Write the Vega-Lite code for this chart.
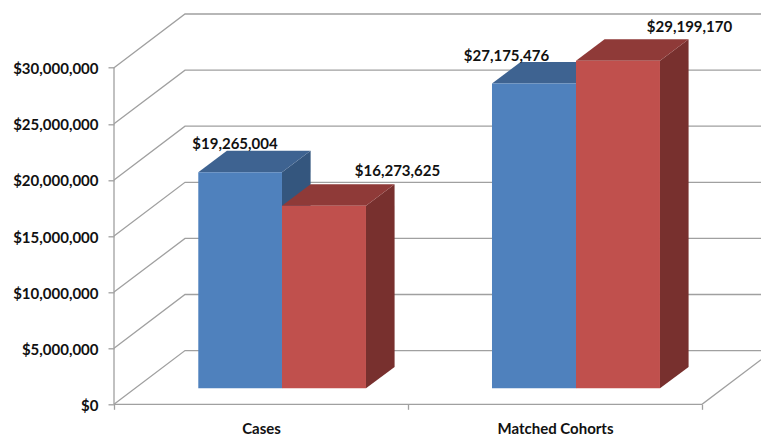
{"$schema":"https://vega.github.io/schema/vega-lite/v6.json","width":647,"height":390,"autosize":"none","padding":{"left":114,"top":14.3,"right":0,"bottom":31.7},"background":"white","view":{"stroke":null},
"datasets":{
"bars":[
{"category":"Cases","series":"A","value":19265004,"x0":0.2867,"x1":0.5714,"labelX":0.4116,"labelY":23262000},
{"category":"Cases","series":"B","value":16273625,"x0":0.5714,"x1":0.8571,"labelX":0.9643,"labelY":20856000},
{"category":"Matched Cohorts","series":"A","value":27175476,"x0":1.2857,"x1":1.5714,"labelX":1.335,"labelY":31132000},
{"category":"Matched Cohorts","series":"B","value":29199170,"x0":1.5714,"x1":1.8571,"labelX":1.9575,"labelY":33717000}],
"lines":[
{"id":"g0","x":0,"y":0},{"id":"g0","x":0.2415,"y":4786000},{"id":"g0","x":2.2007,"y":4786000},
{"id":"g5","x":0,"y":5000000},{"id":"g5","x":0.2415,"y":9786000},{"id":"g5","x":2.2007,"y":9786000},
{"id":"g10","x":0,"y":10000000},{"id":"g10","x":0.2415,"y":14786000},{"id":"g10","x":2.2007,"y":14786000},
{"id":"g15","x":0,"y":15000000},{"id":"g15","x":0.2415,"y":19786000},{"id":"g15","x":2.2007,"y":19786000},
{"id":"g20","x":0,"y":20000000},{"id":"g20","x":0.2415,"y":24786000},{"id":"g20","x":2.2007,"y":24786000},
{"id":"g25","x":0,"y":25000000},{"id":"g25","x":0.2415,"y":29786000},{"id":"g25","x":2.2007,"y":29786000},
{"id":"g30","x":0,"y":30000000},{"id":"g30","x":0.2415,"y":34786000},{"id":"g30","x":2.2007,"y":34786000},
{"id":"wall","x":0,"y":0},{"id":"wall","x":0,"y":30000000},
{"id":"floor","x":0,"y":0},{"id":"floor","x":2,"y":0},{"id":"floor","x":2.2007,"y":3980000}],
"faces":[
{"id":"A1side","series":"A","face":"blue side","x":0.5714,"lo":1426000,"hi":20691004},
{"id":"A1side","series":"A","face":"blue side","x":0.6687,"lo":3333000,"hi":22598004},
{"id":"A1top","series":"A","face":"blue top","x":0.2867,"lo":20691004,"hi":20691004},
{"id":"A1top","series":"A","face":"blue top","x":0.384,"lo":20691004,"hi":22598004},
{"id":"A1top","series":"A","face":"blue top","x":0.5714,"lo":20691004,"hi":22598004},
{"id":"A1top","series":"A","face":"blue top","x":0.6687,"lo":22598004,"hi":22598004},
{"id":"A2side","series":"A","face":"blue side","x":1.5714,"lo":1426000,"hi":28601476},
{"id":"A2side","series":"A","face":"blue side","x":1.6687,"lo":3333000,"hi":30508476},
{"id":"A2top","series":"A","face":"blue top","x":1.2857,"lo":28601476,"hi":28601476},
{"id":"A2top","series":"A","face":"blue top","x":1.383,"lo":28601476,"hi":30508476},
{"id":"A2top","series":"A","face":"blue top","x":1.5714,"lo":28601476,"hi":30508476},
{"id":"A2top","series":"A","face":"blue top","x":1.6687,"lo":30508476,"hi":30508476},
{"id":"B1side","series":"B","face":"red side","x":0.8571,"lo":1426000,"hi":17699625},
{"id":"B1side","series":"B","face":"red side","x":0.9544,"lo":3333000,"hi":19606625},
{"id":"B1top","series":"B","face":"red top","x":0.5714,"lo":17699625,"hi":17699625},
{"id":"B1top","series":"B","face":"red top","x":0.6687,"lo":17699625,"hi":19606625},
{"id":"B1top","series":"B","face":"red top","x":0.8571,"lo":17699625,"hi":19606625},
{"id":"B1top","series":"B","face":"red top","x":0.9544,"lo":19606625,"hi":19606625},
{"id":"B2side","series":"B","face":"red side","x":1.8571,"lo":1426000,"hi":30625170},
{"id":"B2side","series":"B","face":"red side","x":1.9544,"lo":3333000,"hi":32532170},
{"id":"B2top","series":"B","face":"red top","x":1.5714,"lo":30625170,"hi":30625170},
{"id":"B2top","series":"B","face":"red top","x":1.6687,"lo":30625170,"hi":32532170},
{"id":"B2top","series":"B","face":"red top","x":1.8571,"lo":30625170,"hi":32532170},
{"id":"B2top","series":"B","face":"red top","x":1.9544,"lo":32532170,"hi":32532170}]},
"config":{"axis":{"labelFont":"Lato","labelFontWeight":"bold","labelFontSize":15,"labelColor":"#111111","tickColor":"#a0a0a0","tickWidth":1.3,"title":null,"grid":false,"domain":false}},
"layer":[
{"data":{"name":"lines"},"mark":{"type":"line","color":"#a0a0a0","strokeWidth":1.3},
"encoding":{"x":{"field":"x","type":"quantitative","scale":{"domain":[0,2.2007],"nice":false,"zero":false},
"axis":{"values":[0,0.5,1,1.5,2],"tickSize":5,"labelPadding":12,"labelOverlap":false,"labelBound":false,"labelFlush":false,"labelExpr":"datum.value==0.5?'Cases':datum.value==1.5?'Matched Cohorts':''","tickOpacity":{"condition":{"test":"datum.value==0.5||datum.value==1.5","value":0},"value":1}}},
"y":{"field":"y","type":"quantitative","scale":{"domain":[0,34760000],"nice":false,"zero":false},
"axis":{"values":[0,5000000,10000000,15000000,20000000,25000000,30000000],"format":"$,.0f","tickSize":6,"labelPadding":10,"labelOffset":1,"labelOverlap":false,"labelBound":false,"labelFlush":false}},
"detail":{"field":"id"}}},
{"data":{"name":"faces"},"transform":[{"filter":"datum.series=='A'"}],"mark":{"type":"area","orient":"vertical","opacity":1},
"encoding":{"x":{"field":"x","type":"quantitative"},"y":{"field":"lo","type":"quantitative"},"y2":{"field":"hi"},"detail":{"field":"id"},
"color":{"field":"face","type":"nominal","legend":null,"scale":{"domain":["blue side","blue top","red side","red top"],"range":["#34567E","#3E6391","#78302E","#8F3A38"]}}}},
{"data":{"name":"faces"},"transform":[{"filter":"datum.series=='B'"}],"mark":{"type":"area","orient":"vertical","opacity":1},
"encoding":{"x":{"field":"x","type":"quantitative"},"y":{"field":"lo","type":"quantitative"},"y2":{"field":"hi"},"detail":{"field":"id"},
"color":{"field":"face","type":"nominal","legend":null,"scale":{"domain":["blue side","blue top","red side","red top"],"range":["#34567E","#3E6391","#78302E","#8F3A38"]}}}},
{"data":{"name":"bars"},"mark":{"type":"rect","yOffset":-16,"y2Offset":-16},
"encoding":{"x":{"field":"x0","type":"quantitative"},"x2":{"field":"x1"},"y":{"field":"value","type":"quantitative"},"y2":{"datum":0},
"fill":{"field":"series","type":"nominal","legend":null,"scale":{"domain":["A","B"],"range":["#4F81BD","#C0504D"]}}}},
{"data":{"name":"bars"},"mark":{"type":"text","font":"Lato","fontWeight":"bold","fontSize":15,"color":"#111111","align":"center","baseline":"middle","dy":1},
"encoding":{"x":{"field":"labelX","type":"quantitative"},"y":{"field":"labelY","type":"quantitative"},"text":{"field":"value","type":"quantitative","format":"$,.0f"}}}
]}
